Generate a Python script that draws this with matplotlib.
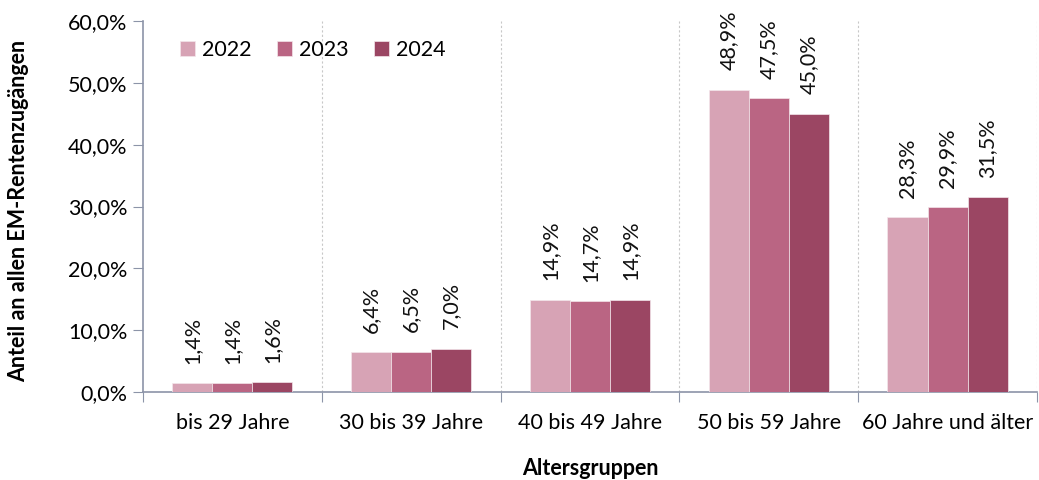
import matplotlib
matplotlib.use("Agg")
import matplotlib.pyplot as plt
import numpy as np

categories = ["bis 29 Jahre", "30 bis 39 Jahre", "40 bis 49 Jahre", "50 bis 59 Jahre", "60 Jahre und älter"]
years = ["2022", "2023", "2024"]
values_2022 = [1.4, 6.4, 14.9, 48.9, 28.3]
values_2023 = [1.4, 6.5, 14.7, 47.5, 29.9]
values_2024 = [1.6, 7.0, 14.9, 45.0, 31.5]
colors = ["#D7A3B5", "#BA6583", "#9B4663"]

plt.rcParams["font.family"] = ["Lato", "DejaVu Sans"]
FS = 15.5

fig = plt.figure(figsize=(10.39, 4.8), dpi=100)
ax = fig.add_axes([0.1376, 0.1833, 0.8604, 0.7727])

x = np.arange(len(categories))
width = 0.224
series = [values_2022, values_2023, values_2024]
for i, (vals, col, yr) in enumerate(zip(series, colors, years)):
    pos = x + (i - 1) * width
    bars = ax.bar(pos, vals, width, color=col, label=yr, zorder=3,
                  edgecolor="#F3E6EB", linewidth=0.5)
    for b, v in zip(bars, vals):
        ax.annotate(f"{v:.1f}%".replace(".", ","),
                    (b.get_x() + b.get_width() / 2, v),
                    xytext=(0, 14), textcoords="offset points",
                    rotation=90, ha="center", va="bottom", fontsize=FS, color="#111111")

ax.set_xlim(-0.5, len(categories) - 0.5)
ax.set_ylim(0, 60)
ax.set_yticks(np.arange(0, 61, 10))
ax.set_yticklabels([f"{t:.1f}%".replace(".", ",") for t in np.arange(0, 61, 10)], fontsize=FS)

# category labels sit in the middle, ticks mark the boundaries
ax.set_xticks(np.arange(-0.5, len(categories)), minor=False)
ax.set_xticklabels([])
ax.set_xticks(x, minor=True)
ax.set_xticklabels(categories, minor=True, fontsize=FS)
ax.tick_params(axis="x", which="minor", length=0, pad=15)
ax.tick_params(axis="x", which="major", direction="out", length=7, color="#8C94A8")
ax.tick_params(axis="y", direction="out", length=7, color="#8C94A8", pad=4)

for b in np.arange(0.5, len(categories), 1.0):
    ax.axvline(b, color="#C8C8C8", linestyle=(0, (2, 2)), linewidth=0.8, zorder=1)

for side in ("top", "right"):
    ax.spines[side].set_visible(False)
for side in ("left", "bottom"):
    ax.spines[side].set_color("#8C94A8")
    ax.spines[side].set_linewidth(1.2)

ax.set_ylabel("Anteil an allen EM-Rentenzugängen", fontsize=FS, fontweight="bold")
ax.yaxis.set_label_coords(-0.127, 0.488)
ax.set_xlabel("Altersgruppen", fontsize=FS, fontweight="bold", labelpad=18)

ax.legend(loc="upper left", bbox_to_anchor=(0.02, 1.0), ncol=3, frameon=False,
          fontsize=FS, handlelength=0.7, handleheight=0.7, columnspacing=1.2, handletextpad=0.3)

fig.savefig("out.png", dpi=100)
